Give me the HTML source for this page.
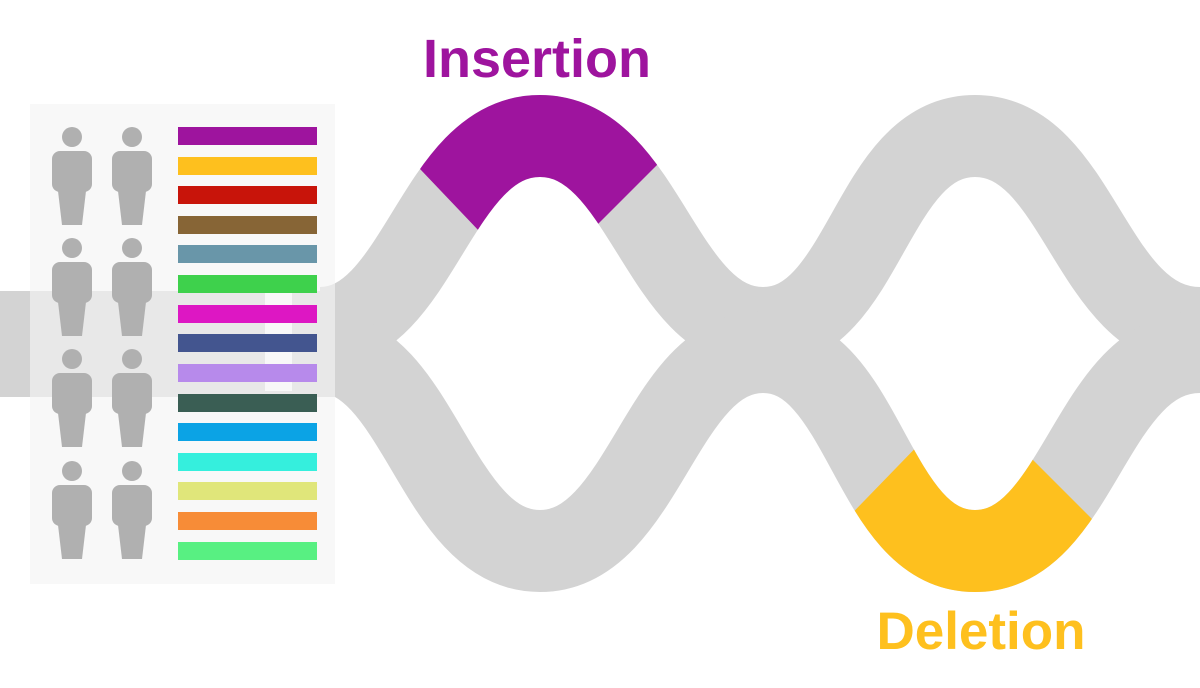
<!DOCTYPE html>
<html><head><meta charset="utf-8"><style>
html,body{margin:0;padding:0;background:#fff;width:1200px;height:688px;overflow:hidden}
svg{display:block}
text{font-family:"Liberation Sans",Arial,sans-serif;font-weight:bold}
</style></head><body>
<svg width="1200" height="688" viewBox="0 0 1200 688" xmlns="http://www.w3.org/2000/svg">
<defs>
<clipPath id="ci"><polygon points="380,127 380,60 700,60 700,122 590,232 480,232"/></clipPath>
<clipPath id="cd"><polygon points="930,433 1010,437 1150,577 1150,640 800,640 800,567"/></clipPath>
</defs>
<rect x="0" y="291" width="340" height="106" fill="#d3d3d3"/>
<rect x="1150" y="287" width="50" height="106" fill="#d3d3d3"/>
<path d="M 320 328 C 420 328, 435 136, 540 136 C 645 136, 660 328, 763 328 C 866 328, 870 136, 975 136 C 1080 136, 1090 328, 1200 328" fill="none" stroke="#d3d3d3" stroke-width="82"/>
<path d="M 320 352 C 420 352, 435 551, 540 551 C 645 551, 660 352, 763 352 C 866 352, 870 551, 975 551 C 1080 551, 1090 352, 1200 352" fill="none" stroke="#d3d3d3" stroke-width="82"/>
<path d="M 320 328 C 420 328, 435 136, 540 136 C 645 136, 660 328, 763 328" fill="none" stroke="#9e149e" stroke-width="82" clip-path="url(#ci)"/>
<path d="M 763 352 C 866 352, 870 551, 975 551 C 1080 551, 1090 352, 1200 352" fill="none" stroke="#fec01e" stroke-width="82" clip-path="url(#cd)"/>
<rect x="30" y="104" width="305" height="480" fill="rgb(244,244,244)" fill-opacity="0.636"/>
<rect x="265" y="291" width="27" height="100" fill="#f8f8f8"/>
<g fill="#b0b0b0">
<g id="p"><circle cx="72" cy="137" r="10"/><rect x="52" y="151" width="40" height="41" rx="8"/><polygon points="58,191 86,191 82,225 62,225"/></g>
<use href="#p" x="60"/>
<use href="#p" y="111"/><use href="#p" x="60" y="111"/>
<use href="#p" y="222"/><use href="#p" x="60" y="222"/>
<use href="#p" y="334"/><use href="#p" x="60" y="334"/>
</g>
<g>
<rect x="178" y="127" width="139" height="18" fill="#9e149e"/>
<rect x="178" y="157" width="139" height="18" fill="#fec01e"/>
<rect x="178" y="186" width="139" height="18" fill="#c8140a"/>
<rect x="178" y="216" width="139" height="18" fill="#876536"/>
<rect x="178" y="245" width="139" height="18" fill="#6996a9"/>
<rect x="178" y="275" width="139" height="18" fill="#3ed14c"/>
<rect x="178" y="305" width="139" height="18" fill="#dd17c3"/>
<rect x="178" y="334" width="139" height="18" fill="#43558f"/>
<rect x="178" y="364" width="139" height="18" fill="#b78aeb"/>
<rect x="178" y="394" width="139" height="18" fill="#3a5e54"/>
<rect x="178" y="423" width="139" height="18" fill="#0ba3e5"/>
<rect x="178" y="453" width="139" height="18" fill="#35efdd"/>
<rect x="178" y="482" width="139" height="18" fill="#e0e67a"/>
<rect x="178" y="512" width="139" height="18" fill="#f78c37"/>
<rect x="178" y="542" width="139" height="18" fill="#58f082"/>
</g>
<text x="537" y="77" font-size="54" fill="#9e149e" text-anchor="middle">Insertion</text>
<text x="981" y="649" font-size="53" fill="#fec01e" text-anchor="middle">Deletion</text>
</svg>
</body></html>
